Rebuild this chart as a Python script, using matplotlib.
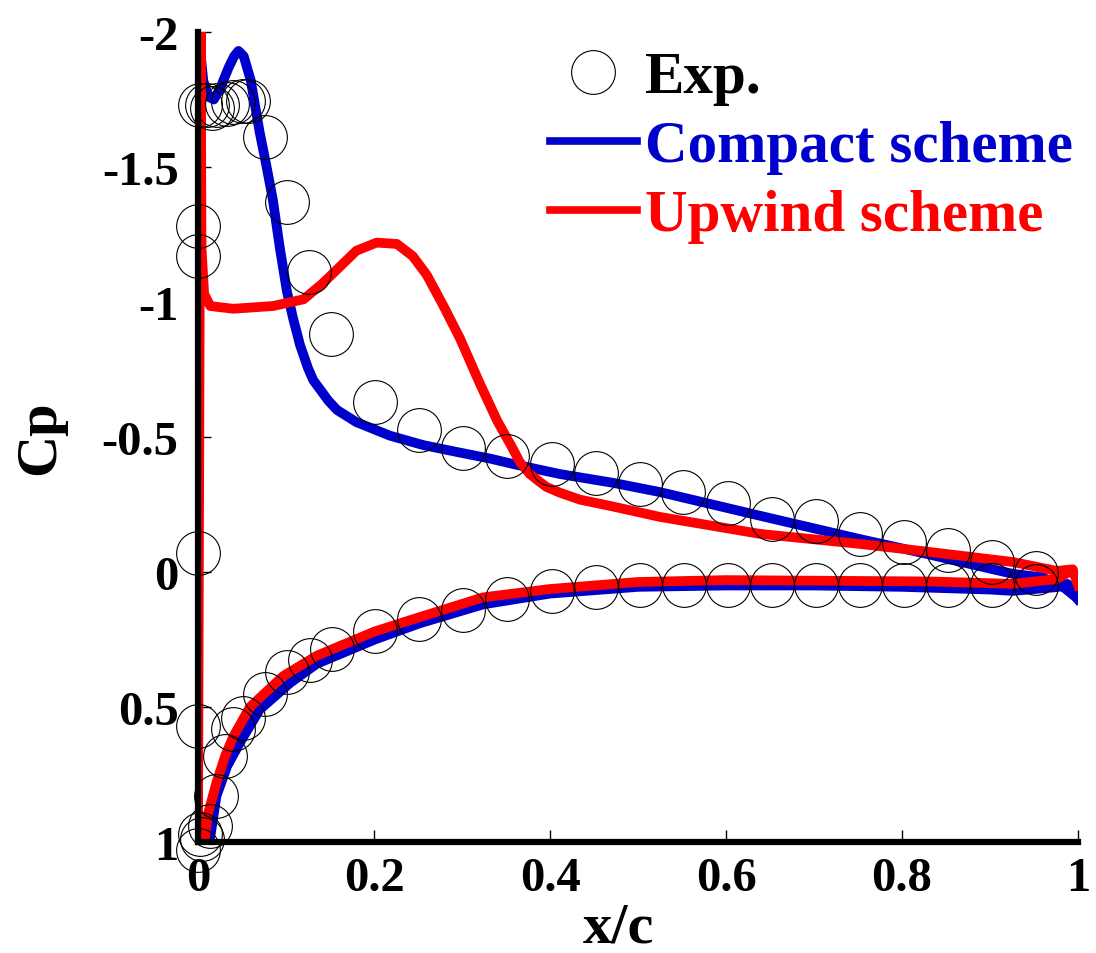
import matplotlib
matplotlib.use("Agg")
import matplotlib.pyplot as plt
from matplotlib.lines import Line2D
from matplotlib.ticker import FixedLocator, FixedFormatter

# experimental Cp (upper surface, then lower surface)
exp_x = [0.0, 0.0, 0.0, 0.002, 0.01, 0.016, 0.022, 0.033, 0.04, 0.051, 0.057,
         0.076, 0.101, 0.126, 0.151, 0.201, 0.251, 0.301, 0.351, 0.402, 0.452,
         0.502, 0.551, 0.602, 0.652, 0.702, 0.752, 0.802, 0.852, 0.902, 0.952,
         0.0, 0.0, 0.002, 0.005, 0.014, 0.021, 0.031, 0.04, 0.051, 0.076,
         0.101, 0.127, 0.152, 0.201, 0.251, 0.301, 0.351, 0.402, 0.452, 0.502,
         0.552, 0.602, 0.652, 0.702, 0.752, 0.802, 0.852, 0.902, 0.952]
exp_cp = [-1.28, -1.17, -0.07, -1.73, -1.73, -1.72, -1.73, -1.735, -1.74, -1.745, -1.745,
          -1.61, -1.37, -1.11, -0.88, -0.63, -0.525, -0.46, -0.43, -0.40, -0.366,
          -0.325, -0.296, -0.255, -0.196, -0.188, -0.141, -0.11, -0.081, -0.036, 0.005,
          0.57, 1.03, 0.97, 0.99, 0.94, 0.83, 0.68, 0.58, 0.54, 0.45,
          0.37, 0.325, 0.285, 0.218, 0.174, 0.14, 0.10, 0.07, 0.057, 0.048,
          0.048, 0.048, 0.048, 0.048, 0.048, 0.048, 0.048, 0.048, 0.05]

# compact scheme
compact_up_x = [0.0, 0.002, 0.006, 0.012, 0.018, 0.025, 0.035, 0.041, 0.046, 0.052,
                0.06, 0.07, 0.078, 0.085, 0.093, 0.101, 0.108, 0.116, 0.125, 0.131,
                0.139, 0.148, 0.158, 0.18, 0.218, 0.256, 0.301, 0.332, 0.358, 0.411,
                0.472, 0.525, 0.639, 0.752, 0.82, 0.926, 0.96, 0.985, 1.0]
compact_up_cp = [-2.05, -1.95, -1.82, -1.76, -1.75, -1.79, -1.87, -1.91, -1.93, -1.91,
                 -1.82, -1.63, -1.5, -1.38, -1.2, -1.04, -0.94, -0.84, -0.755, -0.71,
                 -0.675, -0.635, -0.60, -0.555, -0.505, -0.47, -0.44, -0.42, -0.40, -0.363,
                 -0.33, -0.296, -0.208, -0.122, -0.073, 0.007, 0.02, 0.06, 0.1]
compact_lo_x = [0.0, 0.007, 0.014, 0.021, 0.033, 0.048, 0.07, 0.105, 0.135, 0.201,
                0.252, 0.324, 0.4, 0.5, 0.6, 0.7, 0.8, 0.9, 0.926, 0.976, 0.988, 1.0]
compact_lo_cp = [1.0, 1.0, 0.98, 0.83, 0.72, 0.63, 0.51, 0.41, 0.34, 0.25,
                 0.19, 0.12, 0.08, 0.055, 0.05, 0.05, 0.055, 0.065, 0.07, 0.056, 0.044, 0.1]

# upwind scheme
upwind_up_x = [0.0, 0.003, 0.004, 0.007, 0.014, 0.04, 0.085, 0.12, 0.142, 0.161,
               0.18, 0.203, 0.226, 0.244, 0.26, 0.279, 0.298, 0.32, 0.34, 0.358,
               0.366, 0.377, 0.389, 0.396, 0.411, 0.434, 0.468, 0.525, 0.639, 0.752,
               0.832, 0.926, 0.976, 0.994, 1.0]
upwind_up_cp = [1.0, -2.05, -1.2, -1.03, -0.985, -0.975, -0.985, -1.01, -1.07, -1.13,
                -1.19, -1.22, -1.215, -1.17, -1.10, -0.985, -0.863, -0.70, -0.56, -0.455,
                -0.405, -0.363, -0.332, -0.315, -0.294, -0.268, -0.245, -0.204, -0.141, -0.104,
                -0.074, -0.037, -0.004, -0.01, 0.05]
upwind_lo_x = [0.0, 0.004, 0.008, 0.011, 0.021, 0.031, 0.04, 0.059, 0.097, 0.135,
               0.201, 0.252, 0.324, 0.4, 0.5, 0.6, 0.832, 0.926, 0.976, 0.99]
upwind_lo_cp = [1.0, 1.0, 0.98, 0.9, 0.78, 0.68, 0.61, 0.50, 0.385, 0.31,
                0.22, 0.167, 0.094, 0.063, 0.037, 0.03, 0.035, 0.044, 0.026, 0.0]

xticks = [0, 0.2, 0.4, 0.6, 0.8, 1]
xtick_labels = ["0", "0.2", "0.4", "0.6", "0.8", "1"]
yticks = [-2, -1.5, -1, -0.5, 0, 0.5, 1]
ytick_labels = ["-2", "-1.5", "-1", "-0.5", "0", "0.5", "1"]

blue = "#0000cc"
red = "#ff0000"
font = "Liberation Serif"
lw = 7

fig = plt.figure(figsize=(10.96, 9.54), dpi=100)
ax = fig.add_axes([198 / 1096, 1 - 843 / 954, 880 / 1096, 810 / 954])

ax.plot(compact_up_x[::-1] + compact_lo_x, compact_up_cp[::-1] + compact_lo_cp,
        color=blue, lw=lw, solid_joinstyle="round", zorder=2)
ax.plot(upwind_up_x[::-1] + upwind_lo_x, upwind_up_cp[::-1] + upwind_lo_cp,
        color=red, lw=lw, solid_joinstyle="round", zorder=3)
ax.plot(exp_x, exp_cp, ls="none", marker="o", ms=31.5, mfc="none",
        mec="black", mew=0.8, zorder=4, clip_on=False)

ax.set_xlim(0, 1)
ax.set_ylim(1, -2)

for s in ["top", "right"]:
    ax.spines[s].set_visible(False)
for s in ["left", "bottom"]:
    ax.spines[s].set_linewidth(4.5)
    ax.spines[s].set_zorder(5)

ax.xaxis.set_major_locator(FixedLocator(xticks))
ax.xaxis.set_major_formatter(FixedFormatter(xtick_labels))
ax.yaxis.set_major_locator(FixedLocator(yticks))
ax.yaxis.set_major_formatter(FixedFormatter(ytick_labels))
ax.tick_params(direction="in", length=9, width=1, pad=10)
ax.tick_params(axis="y", pad=14)
for lab in ax.get_xticklabels() + ax.get_yticklabels():
    lab.set_fontfamily(font)
    lab.set_fontweight("bold")
    lab.set_fontsize(35)

ax.set_xlabel("x/c", fontfamily=font, fontweight="bold", fontsize=42)
ax.xaxis.set_label_coords(0.478, -0.074)
ax.set_ylabel("Cp", fontfamily=font, fontweight="bold", fontsize=42)
ax.yaxis.set_label_coords(-0.15, 0.5)

handles = [
    Line2D([], [], ls="none", marker="o", ms=31.5, mfc="none", mec="black", mew=0.8),
    Line2D([], [], color=blue, lw=5.5),
    Line2D([], [], color=red, lw=5.5),
]
labels = ["Exp.", "Compact scheme", "Upwind scheme"]
leg = ax.legend(handles, labels, loc="upper left",
                bbox_to_anchor=(550 / 1096, 1 - 52 / 954), bbox_transform=fig.transFigure,
                frameon=False, borderpad=0, borderaxespad=0,
                handlelength=1.47, handletextpad=0.14, labelspacing=0.25,
                prop={"family": font, "weight": "bold", "size": 42.5})
for txt, c in zip(leg.get_texts(), ["black", blue, red]):
    txt.set_color(c)

fig.savefig("out.png", dpi=100)
